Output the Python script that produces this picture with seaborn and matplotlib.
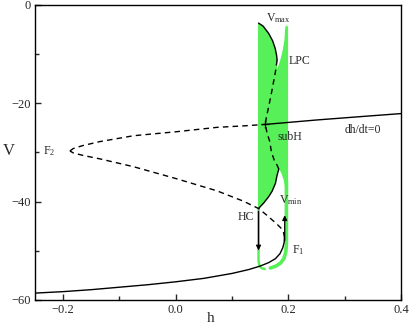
import numpy as np
import pandas as pd
import matplotlib
matplotlib.use("Agg")
import matplotlib.pyplot as plt
import seaborn as sns

# ---------------------------------------------------------------
# data (h, V)
# ---------------------------------------------------------------
# steady-state curve, lower stable branch (up to fold F1)
low_h = [-0.25, -0.20, -0.15, -0.10, -0.05, 0.00, 0.05, 0.10, 0.13, 0.15,
         0.165, 0.177, 0.185, 0.19, 0.1925, 0.193]
low_V = [-58.6, -58.3, -57.9, -57.4, -56.9, -56.3, -55.6, -54.6, -53.8, -53.1,
         -52.4, -51.6, -50.6, -49.4, -48.3, -47.3]
# middle unstable branch F1 -> HC -> F2
mid_h = [0.193, 0.1915, 0.187, 0.18, 0.17, 0.16, 0.147, 0.12, 0.073, 0.0,
         -0.075, -0.135, -0.165, -0.182, -0.188]
mid_V = [-47.3, -46.3, -45.4, -44.6, -43.6, -42.6, -41.4, -39.9, -37.8, -35.3,
         -32.9, -31.3, -30.6, -30.1, -29.7]
# upper unstable branch F2 -> subH
up_h = [-0.188, -0.182, -0.165, -0.135, -0.075, 0.0, 0.073, 0.12, 0.159]
up_V = [-29.7, -29.2, -28.6, -27.8, -26.6, -25.8, -24.9, -24.6, -24.3]
# upper stable branch subH -> right
top_h = [0.159, 0.25, 0.33, 0.40]
top_V = [-24.3, -23.4, -22.7, -22.1]

# periodic orbits
vmax_h = [0.147, 0.155, 0.165, 0.172, 0.1765, 0.179, 0.180]
vmax_V = [-3.7, -4.3, -5.8, -7.3, -8.8, -10.2, -11.2]
unst_h = [0.180, 0.177, 0.171, 0.165, 0.161, 0.159, 0.162, 0.167, 0.170, 0.175, 0.180, 0.183]
unst_V = [-11.2, -13.6, -17.3, -20.7, -22.8, -24.3, -26.0, -27.8, -30.0, -31.6, -32.6, -33.4]
vmin_h = [0.183, 0.180, 0.177, 0.171, 0.165, 0.156, 0.147]
vmin_V = [-33.4, -34.6, -36.3, -37.9, -39.0, -40.3, -41.4]

# simulated trajectory (green) outline
band_h = [0.146, 0.146, 0.156, 0.165, 0.171, 0.177, 0.180, 0.183, 0.1875, 0.1917,
          0.1947, 0.1995, 0.1995, 0.1955, 0.194, 0.193, 0.190, 0.1857, 0.180,
          0.180, 0.1765, 0.172, 0.165, 0.155, 0.147]
band_V = [-3.7, -41.4, -40.3, -39.0, -37.9, -36.3, -34.6, -33.2, -34.2, -35.6,
          -37.3, -38.0, -4.5, -4.1, -5.1, -7.1, -9.2, -11.2, -13.1,
          -11.2, -8.8, -7.3, -5.8, -4.3, -3.7]
right_h = [0.1965, 0.1965, 0.1955, 0.192, 0.186, 0.178, 0.168]
right_V = [-36.0, -48.5, -50.2, -51.6, -52.5, -53.1, -53.5]
left_h = [0.147, 0.147, 0.1485, 0.152, 0.158]
left_V = [-41.4, -52.0, -53.0, -53.5, -53.7]

sub_h, sub_V = 0.159, -24.3

# ---------------------------------------------------------------
sns.set_style("ticks")
plt.rcParams.update({
    "font.family": ["Liberation Serif", "DejaVu Serif"],
    "mathtext.fontset": "custom",
    "mathtext.rm": "Liberation Serif",
    "mathtext.it": "Liberation Serif:italic",
    "axes.linewidth": 1.0,
    "xtick.direction": "in", "ytick.direction": "in",
})

fig = plt.figure(figsize=(4.1, 3.27), dpi=100)
ax = fig.add_axes([0.0854, 0.0826, 0.8926, 0.9024])

green = "#58f058"
ax.fill(band_h, band_V, color=green, lw=0, zorder=1)
sns.lineplot(x=right_h, y=right_V, sort=False, estimator=None, color=green, lw=2.6, ax=ax, zorder=1)
sns.lineplot(x=left_h, y=left_V, sort=False, estimator=None, color=green, lw=1.8, ax=ax, zorder=1)

dash = (0, (4, 3))
sns.lineplot(x=low_h, y=low_V, sort=False, estimator=None, color="black", lw=1.0, ax=ax, zorder=3)
sns.lineplot(x=top_h, y=top_V, sort=False, estimator=None, color="black", lw=1.0, ax=ax, zorder=3)
sns.lineplot(x=mid_h, y=mid_V, sort=False, estimator=None, color="black", lw=1.0, linestyle=dash, ax=ax, zorder=3)
sns.lineplot(x=up_h, y=up_V, sort=False, estimator=None, color="black", lw=1.0, linestyle=dash, ax=ax, zorder=3)
sns.lineplot(x=vmax_h, y=vmax_V, sort=False, estimator=None, color="black", lw=1.0, ax=ax, zorder=3)
sns.lineplot(x=vmin_h, y=vmin_V, sort=False, estimator=None, color="black", lw=1.0, ax=ax, zorder=3)
sns.lineplot(x=unst_h, y=unst_V, sort=False, estimator=None, color="black", lw=1.0, linestyle=dash, ax=ax, zorder=3)
ax.plot([sub_h], [sub_V], marker="+", color="black", ms=6, mew=0.9, zorder=4)

# jump arrows
ax.annotate("", xy=(0.147, -50.5), xytext=(0.147, -41.4),
            arrowprops=dict(arrowstyle="-|>", color="black", lw=0.9, mutation_scale=7), zorder=4)
ax.annotate("", xy=(0.1935, -42.2), xytext=(0.1935, -48.5),
            arrowprops=dict(arrowstyle="-|>", color="black", lw=0.9, mutation_scale=7), zorder=4)

fs = 8.5
ax.text(0.160, -2.6, r"V$_{\mathrm{max}}$", fontsize=fs, va="center", ha="left")
ax.text(0.2005, -11.5, "LPC", fontsize=fs, va="center", ha="left")
ax.text(0.181, -26.8, "subH", fontsize=fs, va="center", ha="left")
ax.text(0.300, -25.4, "dh/dt=0", fontsize=fs, va="center", ha="left")
ax.text(-0.235, -29.8, r"F$_{2}$", fontsize=fs, va="center", ha="left")
ax.text(0.184, -39.7, r"V$_{\mathrm{min}}$", fontsize=fs, va="center", ha="left")
ax.text(0.110, -43.1, "HC", fontsize=fs, va="center", ha="left")
ax.text(0.207, -49.9, r"F$_{1}$", fontsize=fs, va="center", ha="left")

ax.set_xlim(-0.25, 0.4)
ax.set_ylim(-60, 0)
ax.set_xticks([-0.2, 0.0, 0.2, 0.4])
ax.set_xticklabels(["\u22120.2", "0.0", "0.2", "0.4"])
ax.set_xticks([-0.1, 0.1, 0.3], minor=True)
ax.set_yticks([0, -20, -40, -60])
ax.set_yticklabels(["0", "\u221220", "\u221240", "\u221260"])
ax.set_yticks([-10, -30, -50], minor=True)
ax.tick_params(which="major", length=4, width=1.0, labelsize=9, pad=3)
ax.tick_params(which="minor", length=3, width=1.0)
ax.tick_params(axis="x", which="both", top=False)
ax.tick_params(axis="y", which="both", right=False)
for s in ax.spines.values():
    s.set_visible(True)
    s.set_color("black")

ax.set_xlabel("h", fontsize=11)
ax.xaxis.set_label_coords(0.481, -0.062)
ax.xaxis.label.set_va("center")
ax.set_ylabel("V", fontsize=12, rotation=0)
ax.yaxis.set_label_coords(-0.072, 0.505)
ax.yaxis.label.set_va("center")
ax.yaxis.label.set_ha("center")

fig.savefig("out.png", dpi=100)
